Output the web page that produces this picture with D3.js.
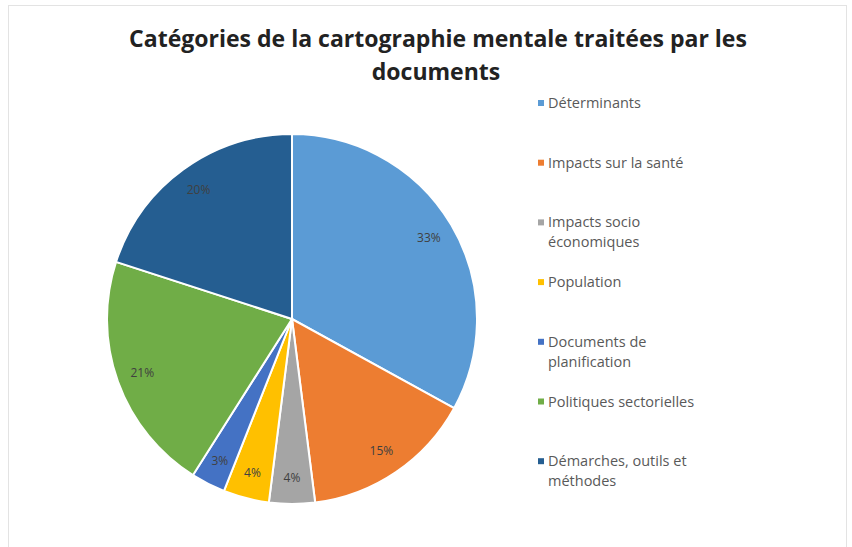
<!DOCTYPE html>
<html>
<head>
<meta charset="utf-8">
<script src="https://cdn.jsdelivr.net/npm/d3@7.9.0/dist/d3.min.js"></script>
<style>
  body { margin: 0; background: #fff; }
  text { font-family: "Open Sans", "Noto Sans", sans-serif; }
</style>
</head>
<body>
<svg id="chart" width="852" height="547"></svg>
<script>
// categories and shares (%)
const categories = [
  "Déterminants",
  "Impacts sur la santé",
  "Impacts socio économiques",
  "Population",
  "Documents de planification",
  "Politiques sectorielles",
  "Démarches, outils et méthodes"
];
const legendLines = [
  ["Déterminants"],
  ["Impacts sur la santé"],
  ["Impacts socio", "économiques"],
  ["Population"],
  ["Documents de", "planification"],
  ["Politiques sectorielles"],
  ["Démarches, outils et", "méthodes"]
];
const values = [33, 15, 4, 4, 3, 21, 20];
const colors = ["#5B9BD5", "#ED7D31", "#A5A5A5", "#FFC000", "#4472C4", "#70AD47", "#255E91"];

const svg = d3.select('#chart');

// faint frame like the original export
svg.append('rect')
  .attr('x', 8.5).attr('y', 5.5)
  .attr('width', 838).attr('height', 548)
  .attr('fill', 'none')
  .attr('stroke', '#e3e3e3');

// title, two lines
const title = svg.append('g').attr('class', 'title');
const t1 = title.append('text')
  .attr('x', 438).attr('y', 47)
  .attr('text-anchor', 'middle')
  .attr('font-weight', 'bold')
  .attr('font-size', 22)
  .attr('fill', '#222')
  .text('Catégories de la cartographie mentale traitées par les');
// fit first line to the width seen in the reference
const w1 = t1.node().getComputedTextLength();
const fs = 22 * 618 / w1;
t1.attr('font-size', fs);
title.append('text')
  .attr('x', 436).attr('y', 80)
  .attr('text-anchor', 'middle')
  .attr('font-weight', 'bold')
  .attr('font-size', fs)
  .attr('fill', '#222')
  .text('documents');

// pie
const cx = 292, cy = 319, radius = 185;
const pie = d3.pie().sort(null).value(d => d);
const arc = d3.arc().innerRadius(0).outerRadius(radius);
const labelArc = d3.arc().innerRadius(radius * 0.86).outerRadius(radius * 0.86);

const arcs = pie(values);
const g = svg.append('g').attr('transform', `translate(${cx},${cy})`);

g.selectAll('path')
  .data(arcs)
  .join('path')
  .attr('d', arc)
  .attr('fill', (d, i) => colors[i])
  .attr('stroke', '#fff')
  .attr('stroke-width', 2);

g.selectAll('text.pct')
  .data(arcs)
  .join('text')
  .attr('class', 'pct')
  .attr('transform', d => `translate(${labelArc.centroid(d)})`)
  .attr('text-anchor', 'middle')
  .attr('dy', '0.35em')
  .attr('font-size', 12)
  .attr('fill', '#404040')
  .text(d => d.data + '%');

// legend
const legendX = 541, legendY = 103, legendStep = 59.7;
const legend = svg.append('g').attr('class', 'legend');
const items = legend.selectAll('g')
  .data(categories)
  .join('g')
  .attr('transform', (d, i) => `translate(${legendX},${legendY + i * legendStep})`);

items.append('rect')
  .attr('x', -3).attr('y', -3)
  .attr('width', 6).attr('height', 6)
  .attr('fill', (d, i) => colors[i]);

items.each(function(d, i) {
  const txt = d3.select(this).append('text')
    .attr('x', 7)
    .attr('y', 0)
    .attr('font-size', 14.5)
    .attr('fill', '#595959');
  legendLines[i].forEach((line, j) => {
    txt.append('tspan')
      .attr('x', 7)
      .attr('y', j * 20)
      .attr('dy', '0.35em')
      .text(line);
  });
});
</script>
</body>
</html>
